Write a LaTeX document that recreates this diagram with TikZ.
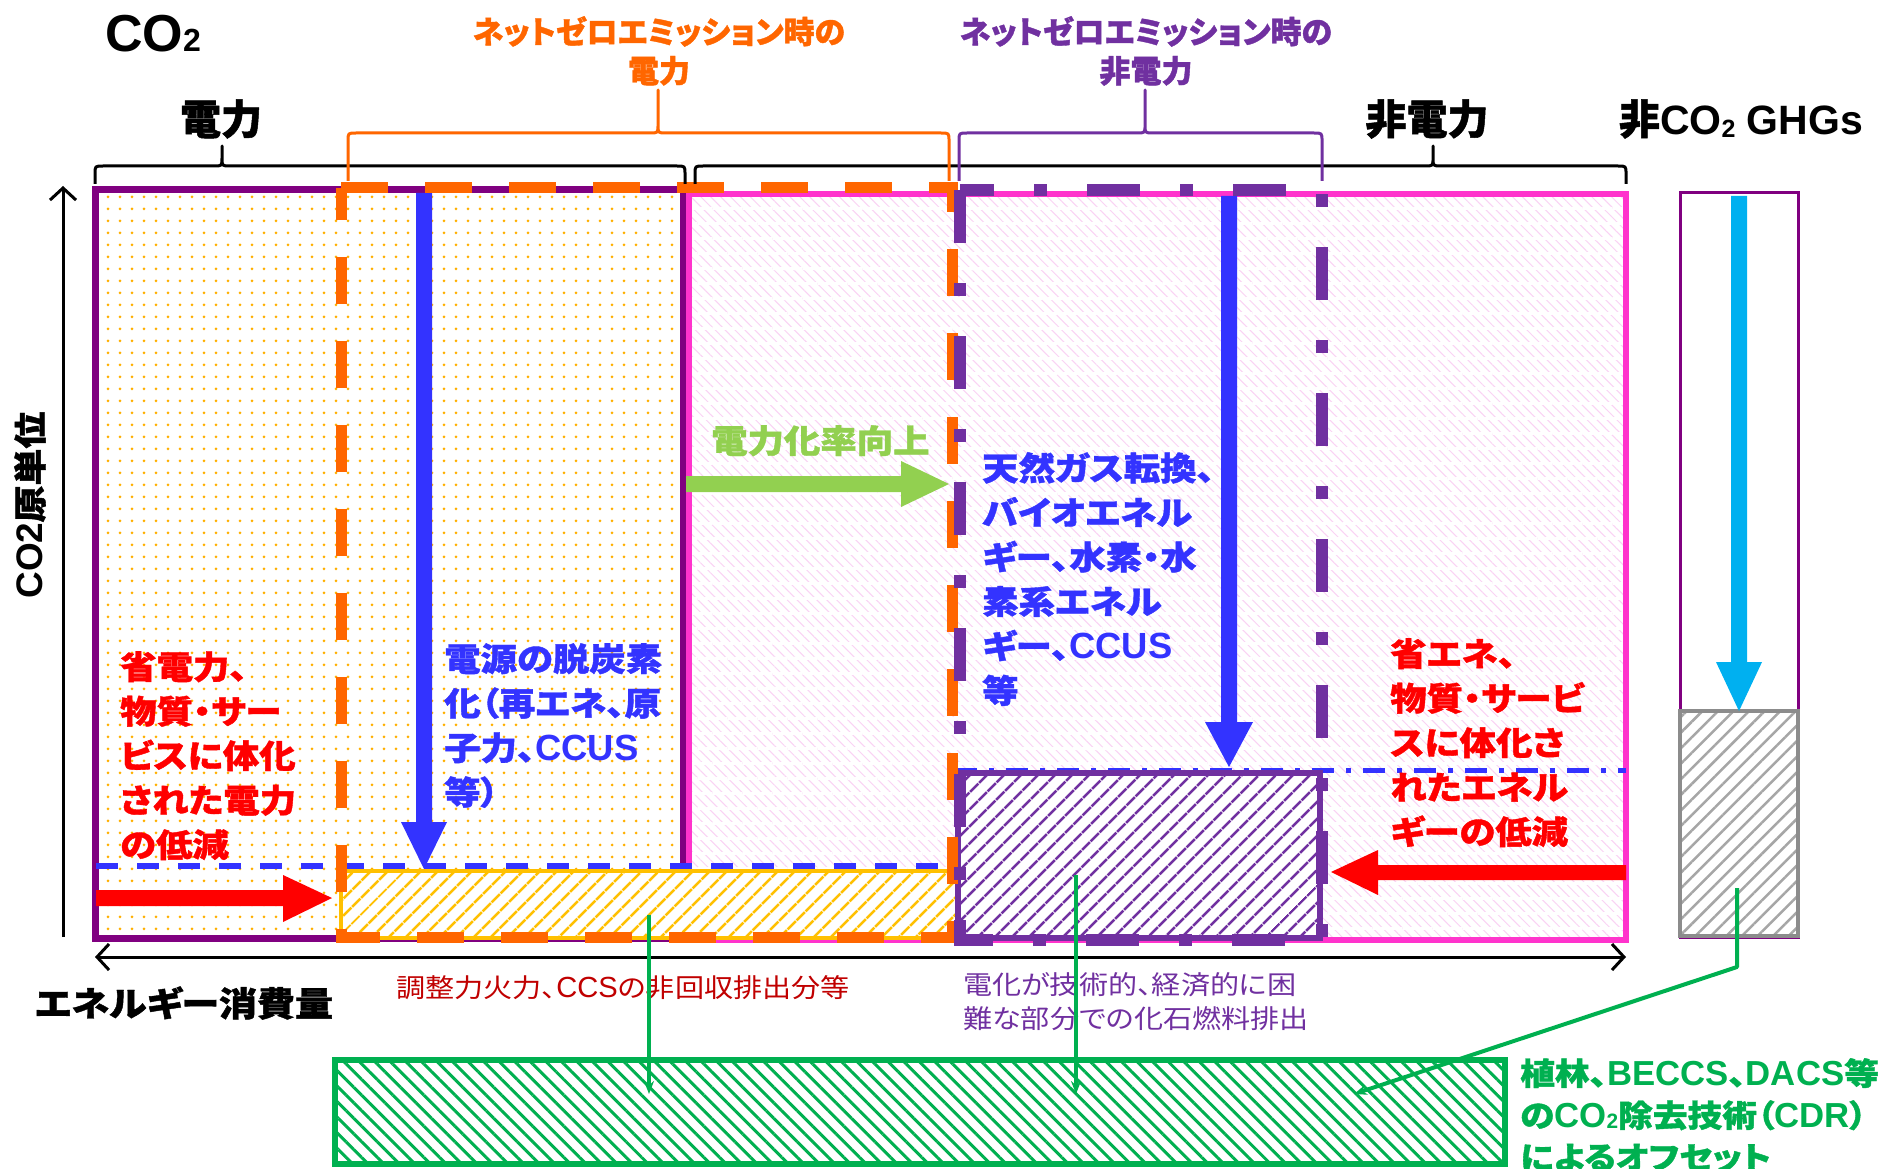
\documentclass[tikz,border=0pt]{standalone}
\usepackage{fontspec}
\usepackage{graphicx}
\usetikzlibrary{patterns.meta,arrows.meta}
\setmainfont{Liberation Sans}
\newfontfamily\jp[RawFeature=+palt,BoldFeatures={FakeBold=1.2}]{Noto Sans CJK JP}
\newfontfamily\jpx[RawFeature=+palt,FakeStretch=1.12,BoldFeatures={FakeBold=1.2}]{Noto Sans CJK JP}
\newfontfamily\lat{Liberation Sans}
\newfontfamily\latx[Scale=1.12]{Liberation Sans}
\newcommand\stwo{\raisebox{-0.04em}{\scalebox{0.6}{2}}}
\definecolor{cPurple}{HTML}{800080}
\definecolor{cPink}{HTML}{FF33CC}
\definecolor{cOrange}{HTML}{FF6600}
\definecolor{cViolet}{HTML}{7030A0}
\definecolor{cBlue}{HTML}{3333FF}
\definecolor{cRed}{HTML}{FF0000}
\definecolor{cDRed}{HTML}{C00000}
\definecolor{cLGreen}{HTML}{92D050}
\definecolor{cGreen}{HTML}{00B050}
\definecolor{cCyan}{HTML}{00B0F0}
\definecolor{cGold}{HTML}{FFC000}
\definecolor{cDot}{HTML}{FFB000}
\definecolor{cGray}{HTML}{8C8C8C}
\definecolor{cLPink}{HTML}{FAD2F4}
\newcommand\drawbrace[7]{\draw[#1] (#2,#6) -- (#2,#5+8) .. controls (#2,#5) and (#2,#5) .. (#2+8,#5) -- (#4-8,#5) .. controls (#4,#5) and (#4,#5) .. (#4,#5-8) -- (#4,#7) -- (#4,#5-8) .. controls (#4,#5) and (#4,#5) .. (#4+8,#5) -- (#3-8,#5) .. controls (#3,#5) and (#3,#5) .. (#3,#5+8) -- (#3,#6);}
\begin{document}
\begin{tikzpicture}[x=1pt,y=-1pt,
  every node/.style={inner sep=0pt},
  body/.style={align=left, anchor=north west, font=\jpx\bfseries\fontsize{32.5}{44.5}\selectfont},
  note/.style={align=left, font=\jpx\fontsize{26}{34}\selectfont},
  ttl/.style={font=\jp\bfseries\fontsize{41}{45}\selectfont},
  toplbl/.style={align=center, anchor=north, font=\jp\bfseries\fontsize{31}{39}\selectfont},
  brc/.style={line width=3pt, line join=round},
  gline/.style={draw=cGreen, line width=4pt, -{Stealth[length=13pt,width=10pt]}},
  axis/.style={line width=3pt}]
\useasboundingbox (0,0) rectangle (1895,1169);

% ---- main boxes
\fill[white] (95,190) rectangle (683,938);
\fill[pattern={Dots[radius=1.5pt,distance=12pt]}, pattern color=cDot] (95,190) rectangle (683,938);
\fill[white] (689,194) rectangle (1626,940);
\fill[pattern={Lines[angle=-45,distance=7pt,line width=1pt]}, pattern color=cLPink] (689,194) rectangle (1626,940);
\fill[pattern={Lines[angle=0,distance=15pt,line width=3pt]}, pattern color=white] (689,194) rectangle (1626,940);
\draw[cPurple, line width=7pt] (95,190) rectangle (683,938);
\draw[cPink, line width=6pt] (689,194) rectangle (1626,940);
\draw[cPurple, line width=3pt] (1680,193) rectangle (1798,937);

% ---- target levels
\draw[cBlue, line width=6pt, dash pattern=on 22pt off 19pt] (96,866) -- (955,866);
\draw[cBlue, line width=5pt, dash pattern=on 22pt off 12pt on 5pt off 12pt] (955,770) -- (1626,770);

% ---- residual boxes
\fill[white] (341,871) rectangle (957,938);
\fill[pattern={Lines[angle=45,distance=13pt,line width=3pt]}, pattern color=cGold] (341,871) rectangle (957,938);
\draw[cGold, line width=4pt] (341,871) rectangle (957,938);
\fill[white] (958,773) rectangle (1320,938);
\fill[pattern={Lines[angle=45,distance=13pt,line width=3pt]}, pattern color=cViolet] (958,773) rectangle (1320,938);
\draw[cViolet, line width=6pt] (958,773) rectangle (1320,938);
\fill[white] (1680,711) rectangle (1798,936);
\fill[pattern={Lines[angle=45,distance=11pt,line width=2.5pt]}, pattern color=gray!70] (1680,711) rectangle (1798,936);
\draw[cGray, line width=4pt] (1680,711) rectangle (1798,936);

% ---- vertical arrows
\fill[cBlue] (416,193) -- (432,193) -- (432,822) -- (447,822) -- (424,869) -- (401,822) -- (416,822) -- cycle;
\fill[cBlue] (1221,196) -- (1237,196) -- (1237,722) -- (1253,722) -- (1229,767) -- (1205,722) -- (1221,722) -- cycle;
\fill[cCyan] (1731,196) -- (1747,196) -- (1747,662) -- (1762,662) -- (1739,711) -- (1716,662) -- (1731,662) -- cycle;

% ---- net-zero frames
\draw[cOrange, line width=11pt, dash pattern=on 47pt off 37pt] (341,188) -- (952,188) -- (952,937) -- (341,937) -- cycle;
\draw[cViolet, line width=12pt, dash pattern=on 53pt off 40pt on 13pt off 40pt] (960,190) -- (960,940) -- (1322,940) -- (1322,190) -- cycle;

% ---- horizontal arrows
\fill[cRed] (96,890) -- (283,890) -- (283,875) -- (332,898) -- (283,922) -- (283,906) -- (96,906) -- cycle;
\fill[cRed] (1626,865) -- (1378,865) -- (1378,850) -- (1331,872) -- (1378,895) -- (1378,880) -- (1626,880) -- cycle;
\fill[cLGreen] (686,476) -- (901,476) -- (901,461) -- (949,484) -- (901,507) -- (901,492) -- (686,492) -- cycle;

% ---- body texts
\node[body, text=cRed] (t1) at (120,651) {省電力、\\物質・サー\\ビスに体化\\された電力\\の低減};
\node[body, text=cBlue] (t2) at (444,643) {電源の脱炭素\\化（再エネ、原\\子力、{\latx CCUS}\\等）};
\node[body, text=cLGreen] (t3) at (711,425) {電力化率向上};
\node[body, text=cBlue] (t4) at (982,452) {天然ガス転換、\\バイオエネル\\ギー、水素・水\\素系エネル\\ギー、{\latx CCUS}\\等};
\node[body, text=cRed] (t5) at (1390,638) {省エネ、\\物質・サービ\\スに体化さ\\れたエネル\\ギーの低減};

% ---- titles
\node[anchor=base west, font=\lat\bfseries\fontsize{52}{54}\selectfont] (co2) at (105,52) {CO{\fontsize{32}{32}\selectfont 2}};
\node[ttl] (el) at (221,119) {電力};
\node[ttl] (nel) at (1427,119) {非電力};
\node[ttl] (ghg) at (1741,119) {非{\lat CO{\fontsize{25}{25}\selectfont\raisebox{-0.12em}{2}} GHGs}};
\node[toplbl, text=cOrange] (nzel) at (659,16) {ネットゼロエミッション時の\\電力};
\node[toplbl, text=cViolet] (nznel) at (1146,16) {ネットゼロエミッション時の\\非電力};

% ---- braces
\drawbrace{brc}{95}{685}{222}{166}{184}{146}
\drawbrace{brc}{695}{1626}{1433}{166}{184}{146}
\drawbrace{brc,cOrange}{348}{949}{658}{133}{181}{90}
\drawbrace{brc,cViolet}{959}{1322}{1145}{133}{181}{90}

% ---- axes
\coordinate (ya) at (63,937);
\coordinate (yb) at (63,186);
\draw[axis, -{Straight Barb[length=12pt,width=26pt]}] (ya) -- (yb);
\coordinate (xa) at (95,957);
\coordinate (xb) at (1626,957);
\draw[axis, {Straight Barb[length=12pt,width=26pt]}-{Straight Barb[length=12pt,width=26pt]}] (xa) -- (xb);
\node[rotate=90, font=\jpx\bfseries\fontsize{33}{36}\selectfont] (ylab) at (30,505) {{\latx CO2}原単位};
\node[font=\jpx\bfseries\fontsize{34}{36}\selectfont] (xlab) at (184,1003) {エネルギー消費量};

% ---- notes
\node[note, anchor=west, text=cDRed] (n1) at (396,988) {調整力火力、{\latx CCS}の非回収排出分等};
\node[note, anchor=north west, text=cViolet] (n2) at (963,972) {電化が技術的、経済的に困\\難な部分での化石燃料排出};

% ---- offset box
\fill[white] (335,1060) rectangle (1505,1164);
\fill[pattern={Lines[angle=-45,distance=11pt,line width=3pt]}, pattern color=cGreen] (335,1060) rectangle (1505,1164);
\draw[cGreen, line width=6pt] (335,1060) rectangle (1505,1164);
\node[body, font=\jpx\bfseries\fontsize{31}{42}\selectfont, text=cGreen] (cdr) at (1520,1058) {植林、{\latx BECCS}、{\latx DACS}等\\の{\latx CO\stwo}除去技術（{\latx CDR}）\\によるオフセット};

% ---- green connectors
\coordinate (g1a) at (649,915);
\coordinate (g1b) at (649,1094);
\coordinate (g2a) at (1076,875);
\coordinate (g2b) at (1076,1094);
\coordinate (g3a) at (1737,888);
\coordinate (g3k) at (1737,967);
\coordinate (g3b) at (1354,1094);
\draw[gline] (g1a) -- (g1b);
\draw[gline] (g2a) -- (g2b);
\draw[gline, line join=round] (g3a) -- (g3k) -- (g3b);
\end{tikzpicture}
\end{document}
